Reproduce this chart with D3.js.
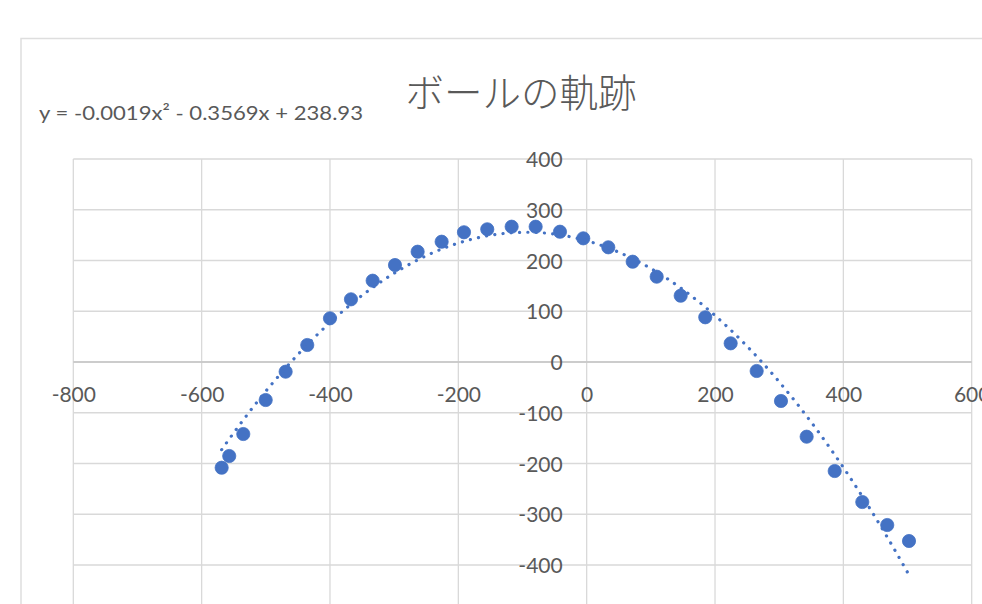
<!DOCTYPE html>
<html lang="ja">
<head>
<meta charset="utf-8">
<script src="https://cdn.jsdelivr.net/npm/d3@7"></script>
<style>
  html, body { margin: 0; padding: 0; background: #ffffff; overflow: hidden; }
  svg { display: block; }
</style>
</head>
<body>
<svg id="chart" width="982" height="604"></svg>
<script>
// Ball trajectory: measured positions (x, y)
const xValues = [-568.8, -557.0, -535.1, -500.2, -469.1, -435.4, -400.0, -367.3, -333.5, -298.7,
                 -263.4, -226.0, -191.2, -154.9, -116.9, -79.5, -41.6, -5.3, 33.7, 71.7,
                 109.1, 146.5, 184.8, 224.4, 264.9, 302.8, 342.8, 386.5, 429.5, 468.4, 502.3];
const yValues = [-208.3, -185.2, -141.9, -74.9, -19.1, 33.5, 86.1, 123.5, 160.2, 191.1,
                 217.3, 237.0, 255.6, 261.5, 266.6, 266.6, 256.7, 243.7, 226.0, 197.6,
                 168.1, 130.6, 88.1, 36.8, -17.7, -76.8, -147.2, -214.8, -275.9, -321.2, -352.7];

// Polynomial trendline coefficients: a*x^2 + b*x + c
const trendCoefficients = [-0.0019, -0.3569, 238.93];
const trendLabel = "y = -0.0019x² - 0.3569x + 238.93";

const xTicks = [-800, -600, -400, -200, 0, 200, 400, 600];
const yTicks = [-500, -400, -300, -200, -100, 0, 100, 200, 300, 400];
const titleText = "ボールの軌跡";

const svg = d3.select("#chart");
const textColor = "#595959";
const gridColor = "#d9d9d9";
const seriesColor = "#4472C4";
const latin = "Lato, 'Open Sans', sans-serif";
const plain = d => String(d);   // hyphen-minus, no thousands separator

// Chart area frame
svg.append("path")
  .attr("d", "M21,604 L21,38.5 L982,38.5")
  .attr("fill", "none")
  .attr("stroke", "#dedede")
  .attr("stroke-width", 1.5);

const x = d3.scaleLinear().domain([-800, 600]).range([73.3, 971.7]);
const y = d3.scaleLinear().domain([-400, 400]).range([565, 159]);

// Gridlines
const grid = svg.append("g");
grid.selectAll("line.h").data(yTicks).join("line")
  .attr("x1", x(-800)).attr("x2", x(600))
  .attr("y1", d => y(d)).attr("y2", d => y(d))
  .attr("stroke", gridColor).attr("stroke-width", 1.3);
grid.selectAll("line.v").data(xTicks).join("line")
  .attr("x1", d => x(d)).attr("x2", d => x(d))
  .attr("y1", y(400)).attr("y2", y(-500))
  .attr("stroke", gridColor).attr("stroke-width", 1.3);

// Horizontal axis line at y = 0
svg.append("line")
  .attr("x1", x(-800)).attr("x2", x(600))
  .attr("y1", y(0)).attr("y2", y(0))
  .attr("stroke", "#c4c4c4").attr("stroke-width", 1.3);

// X axis tick labels (below the y = 0 line)
const xAxis = d3.axisBottom(x).tickValues(xTicks).tickSize(0).tickPadding(0).tickFormat(plain);
const gx = svg.append("g").attr("transform", `translate(0,${y(0)})`).call(xAxis);
gx.select(".domain").remove();
gx.selectAll("text")
  .attr("y", 32).attr("dy", "0.36em")
  .attr("fill", textColor)
  .style("font-family", latin).style("font-size", "21px");

// Y axis tick labels (left of the x = 0 line)
const yAxis = d3.axisLeft(y).tickValues(yTicks.filter(v => v >= -400)).tickSize(0).tickPadding(0)
  .tickFormat(plain);
const gy = svg.append("g").attr("transform", `translate(${x(0) - 24},0)`).call(yAxis);
gy.select(".domain").remove();
gy.selectAll("text")
  .attr("x", 0).attr("dy", "0.36em")
  .attr("fill", textColor)
  .style("font-family", latin).style("font-size", "21px");

// Data points
const points = xValues.map((v, i) => ({ x: v, y: yValues[i] }));
svg.append("g").selectAll("circle").data(points).join("circle")
  .attr("cx", d => x(d.x)).attr("cy", d => y(d.y))
  .attr("r", 6.6)
  .attr("fill", seriesColor)
  .attr("stroke", seriesColor).attr("stroke-width", 0.8);

// Dotted polynomial trendline over the data range
const [a, b, c] = trendCoefficients;
const xMin = d3.min(xValues), xMax = d3.max(xValues);
const trendPts = d3.range(0, 201).map(i => {
  const xv = xMin + (xMax - xMin) * i / 200;
  return [xv, a * xv * xv + b * xv + c];
});
svg.append("path")
  .datum(trendPts)
  .attr("d", d3.line().x(d => x(d[0])).y(d => y(d[1])))
  .attr("fill", "none")
  .attr("stroke", seriesColor)
  .attr("stroke-width", 3.2)
  .attr("stroke-linecap", "round")
  .attr("stroke-dasharray", "0.1,8.2");

// Title
svg.append("text")
  .attr("x", 521).attr("y", 90)
  .attr("text-anchor", "middle")
  .attr("dominant-baseline", "central")
  .attr("fill", textColor)
  .style("font-family", "'Noto Sans CJK JP', sans-serif")
  .style("font-weight", 300)
  .style("font-size", "38.5px")
  .text(titleText);

// Trendline equation label
svg.append("text")
  .attr("x", 39).attr("y", 120)
  .attr("fill", textColor)
  .attr("textLength", 324)
  .attr("lengthAdjust", "spacingAndGlyphs")
  .style("font-family", latin)
  .style("font-size", "20px")
  .text(trendLabel);
</script>
</body>
</html>
